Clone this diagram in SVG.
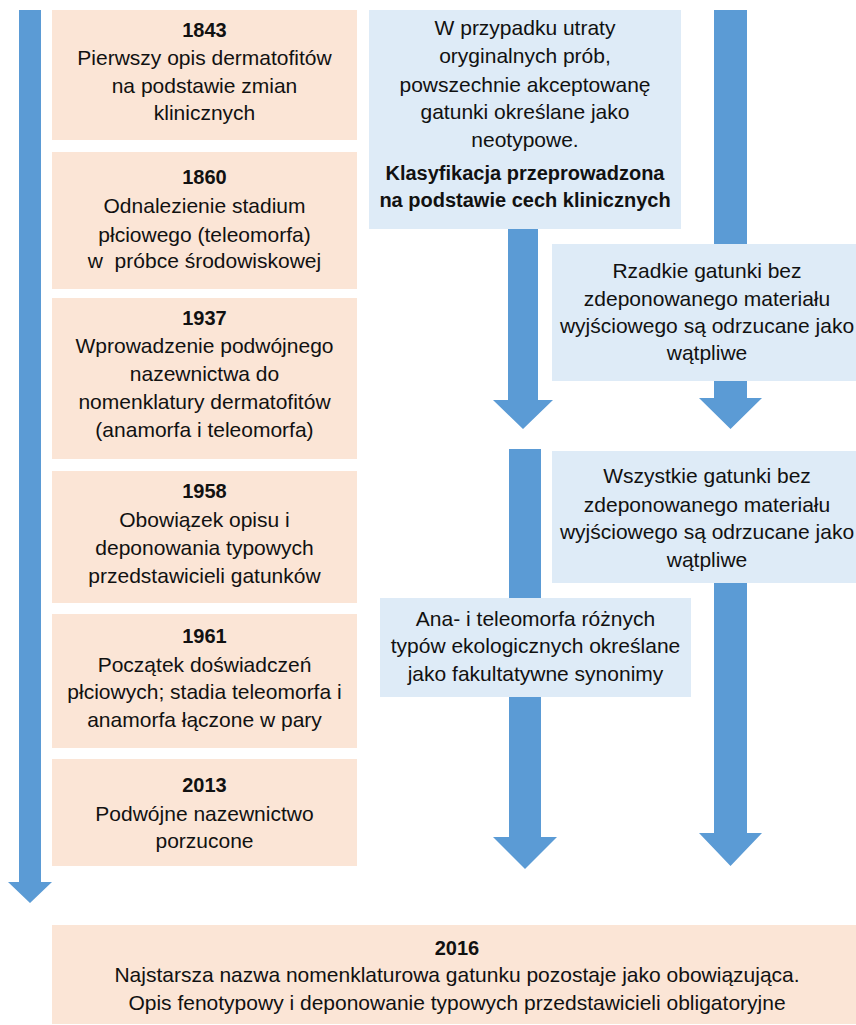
<svg xmlns="http://www.w3.org/2000/svg" width="856" height="1025" viewBox="0 0 856 1025">
<style>
.pink{fill:#FBE5D6}
.blue{fill:#DEEBF7}
.arr{fill:#5B9BD5}
text{font-family:"Liberation Sans",Arial,sans-serif;font-size:21px;fill:#111;text-anchor:middle}
.b{font-weight:bold;font-size:20px}
</style>
<rect width="856" height="1025" fill="#fff"/>
<g id="connectors">
<polygon class="arr" points="19,10 41,10 41,882 52,882 30,903 8,882 19,882"/>
<polygon class="arr" points="508,229 538,229 538,400 553,400 523,429 493,400 508,400"/>
<polygon class="arr" points="714,10 747,10 747,398 762,398 730.5,429 699,398 714,398"/>
<polygon class="arr" points="509,449 541,449 541,837 557,837 525,869 493,837 509,837"/>
<polygon class="arr" points="714,451 747,451 747,833 762,833 730.5,866 699,833 714,833"/>
</g>
<g id="n1843"><rect class="pink" x="52" y="10" width="305" height="130"/>
<text x="204.5" y="37" class="b">1843</text><text x="204.5" y="65">Pierwszy opis dermatofitów</text><text x="204.5" y="93">na podstawie zmian</text><text x="204.5" y="120">klinicznych</text></g>
<g id="n1860"><rect class="pink" x="52" y="152" width="305" height="137"/>
<text x="204.5" y="184" class="b">1860</text><text x="204.5" y="213">Odnalezienie stadium</text><text x="204.5" y="242">płciowego (teleomorfa)</text><text x="204.5" y="268" xml:space="preserve">w  próbce środowiskowej</text></g>
<g id="n1937"><rect class="pink" x="52" y="298" width="305" height="161"/>
<text x="204.5" y="325" class="b">1937</text><text x="204.5" y="353">Wprowadzenie podwójnego</text><text x="204.5" y="381">nazewnictwa do</text><text x="204.5" y="409">nomenklatury dermatofitów</text><text x="204.5" y="437">(anamorfa i teleomorfa)</text></g>
<g id="n1958"><rect class="pink" x="52" y="471" width="305" height="132"/>
<text x="204.5" y="498" class="b">1958</text><text x="204.5" y="527">Obowiązek opisu i</text><text x="204.5" y="555">deponowania typowych</text><text x="204.5" y="583">przedstawicieli gatunków</text></g>
<g id="n1961"><rect class="pink" x="52" y="614" width="305" height="134"/>
<text x="204.5" y="643" class="b">1961</text><text x="204.5" y="672">Początek doświadczeń</text><text x="204.5" y="699">płciowych; stadia teleomorfa i</text><text x="204.5" y="727">anamorfa łączone w pary</text></g>
<g id="n2013"><rect class="pink" x="52" y="759" width="305" height="107"/>
<text x="204.5" y="792" class="b">2013</text><text x="204.5" y="821">Podwójne nazewnictwo</text><text x="204.5" y="848">porzucone</text></g>
<g id="nNeotyp"><rect class="blue" x="369" y="10" width="312" height="219"/>
<text x="525" y="35">W przypadku utraty</text><text x="525" y="63">oryginalnych prób,</text><text x="525" y="92">powszechnie akceptowanę</text><text x="525" y="119">gatunki określane jako</text><text x="525" y="147">neotypowe.</text><text x="525" y="180" class="b">Klasyfikacja przeprowadzona</text><text x="525" y="207" class="b">na podstawie cech klinicznych</text></g>
<g id="nRzadkie"><rect class="blue" x="552" y="244" width="310" height="137"/>
<text x="707" y="278">Rzadkie gatunki bez</text><text x="707" y="306">zdeponowanego materiału</text><text x="707" y="333">wyjściowego są odrzucane jako</text><text x="707" y="360">wątpliwe</text></g>
<g id="nWszystkie"><rect class="blue" x="552" y="451" width="310" height="132"/>
<text x="707" y="483">Wszystkie gatunki bez</text><text x="707" y="512">zdeponowanego materiału</text><text x="707" y="539">wyjściowego są odrzucane jako</text><text x="707" y="567">wątpliwe</text></g>
<g id="nAna"><rect class="blue" x="380" y="598" width="311" height="99"/>
<text x="535.5" y="626">Ana- i teleomorfa różnych</text><text x="535.5" y="653">typów ekologicznych określane</text><text x="535.5" y="681">jako fakultatywne synonimy</text></g>
<g id="n2016"><rect class="pink" x="52" y="925" width="810" height="99"/>
<text x="457" y="955" class="b">2016</text><text x="457" y="982">Najstarsza nazwa nomenklaturowa gatunku pozostaje jako obowiązująca.</text><text x="457" y="1010">Opis fenotypowy i deponowanie typowych przedstawicieli obligatoryjne</text></g>
</svg>
